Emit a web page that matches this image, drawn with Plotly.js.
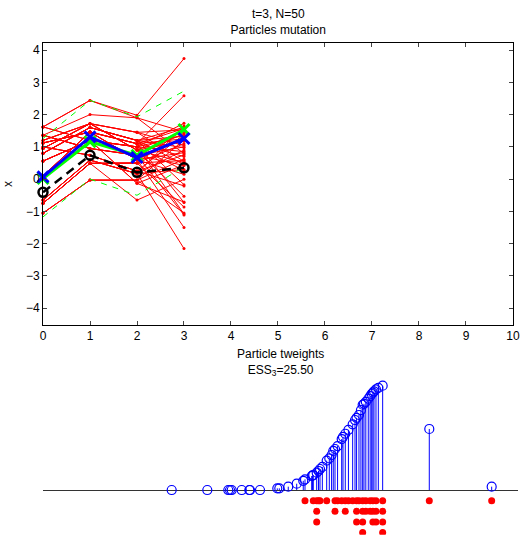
<!DOCTYPE html>
<html>
<head>
<meta charset="utf-8">
<script src="https://cdn.plot.ly/plotly-3.0.1.min.js"></script>
<style>html,body{margin:0;padding:0;background:#fff;}#chart{width:527px;height:536px;}</style>
</head>
<body>
<div id="chart"></div>
<script>
// ---- Data ----
var timeSteps = [0, 1, 2, 3];
// particle trajectories (x at t=0..3)
var partX0 = [-0.65, 0.10, 1.36, 0.56, -1.05, -0.75, 1.12, 1.62, 0.95, 1.00, 0.80, -0.75, 0.10, 0.56, -0.65, 1.36, 1.62, 0.80, 0.95, 1.20, -0.75, -1.05, 1.12, 1.00, 1.62, 0.10, 0.56, -0.65, 0.80, 1.36, 1.20, -0.75, 0.95, -1.05, 1.12, 0.10, 0.80, 0.56, 1.00, 1.36, 1.36, 0.95, 1.20, -0.75, 1.12, 0.80, -0.65, 0.56, 1.12, 1.62];
var partX1 = [0.59, 1.46, 0.95, 1.20, -0.03, 0.49, 1.46, 1.20, 1.72, 0.74, 1.60, 0.49, 1.46, 1.20, 0.59, 0.95, 1.20, 1.60, 1.72, 1.72, 0.49, -0.03, 1.46, 0.74, 2.44, 1.46, 1.20, 0.59, 1.60, 0.95, 1.72, 0.49, 1.72, -0.03, 1.46, 1.46, 1.60, 1.20, 0.74, 0.95, 2.00, 1.72, 1.72, 0.49, 1.46, 1.60, 0.59, 1.20, 1.46, 2.44];
var partX2 = [0.17, 0.60, 0.74, 1.00, -0.03, 0.50, 1.10, -0.13, 0.90, 0.25, 1.20, -0.65, 0.60, 1.00, 0.17, 0.74, -0.13, 1.20, 0.90, 1.45, 0.50, -0.03, 1.10, 0.25, 1.90, 0.60, 1.00, 0.17, 1.20, 0.74, 1.45, 0.50, 0.90, -0.03, 1.10, 0.60, 1.20, 1.00, 0.25, 0.74, 1.90, 0.90, 1.45, 0.50, 1.10, 1.20, 0.17, 1.00, 1.10, 1.98];
var partX3 = [-2.152, -1.497, -1.111, -1.079, -1.048, -0.864, -0.724, -0.711, -0.527, -0.209, -0.172, -0.007, 0.148, 0.269, 0.301, 0.424, 0.44, 0.453, 0.516, 0.55, 0.577, 0.62, 0.700, 0.748, 0.79, 0.821, 0.853, 0.9, 0.976, 1.0, 1.042, 1.1, 1.178, 1.221, 1.25, 1.294, 1.33, 1.362, 1.386, 1.42, 1.465, 1.5, 1.528, 1.55, 1.570, 1.607, 1.65, 1.730, 2.588, 3.736];
// particle weights at t=3 (same order as partX3)
var weights = [0, 0, 0, 0, 0, 0, 0, 0, 0, 0.0012, 0.0012, 0.0024, 0.0045, 0.0066, 0.0076, 0.0100, 0.0104, 0.0107, 0.0124, 0.0136, 0.0150, 0.0165, 0.0210, 0.0226, 0.0250, 0.0279, 0.0293, 0.0314, 0.0364, 0.0380, 0.0402, 0.0430, 0.0469, 0.0500, 0.0516, 0.0536, 0.0570, 0.0609, 0.0616, 0.0630, 0.0652, 0.0670, 0.0686, 0.0695, 0.0705, 0.0719, 0.0730, 0.0745, 0.0436, 0.0024];
// resampled particles: positions and number of copies
var resX = [0.301, 0.453, 0.516, 0.55, 0.577, 0.700, 0.853, 0.9, 0.976, 1.042, 1.1, 1.178, 1.25, 1.294, 1.362, 1.42, 1.5, 1.55, 1.607, 1.730, 2.588, 3.736];
var resCount = [1, 1, 3, 1, 1, 1, 2, 1, 1, 2, 1, 1, 3, 1, 4, 2, 2, 3, 3, 4, 1, 1];
// summary lines
var trueState = [0.02, 1.16, 0.74, 1.54];
var estimate = [0.07, 1.31, 0.67, 1.26];
var observation = [-0.41, 0.74, 0.21, 0.35];
var upperBound = [1.26, 2.44, 1.93, 2.73];
var lowerBound = [-1.17, 0.00, -0.50, 0.38];
var xTicks = [0, 1, 2, 3, 4, 5, 6, 7, 8, 9, 10];
var yTicks = [-4, -3, -2, -1, 0, 1, 2, 3, 4];
var essValue = 25.50;

// ---- Build traces ----
var rx = [], ry = [];
for (var i = 0; i < partX0.length; i++) {
  var p = [partX0[i], partX1[i], partX2[i], partX3[i]];
  for (var t = 0; t < timeSteps.length; t++) { rx.push(timeSteps[t]); ry.push(p[t]); }
  rx.push(null); ry.push(null);
}
var red = {x: rx, y: ry, mode: 'lines+markers', type: 'scatter', xaxis: 'x', yaxis: 'y', cliponaxis: false,
  line: {color: '#ff0000', width: 1}, marker: {color: '#ff0000', size: 3}, hoverinfo: 'skip', showlegend: false};
var gUp = {x: timeSteps, y: upperBound, mode: 'lines', xaxis: 'x', yaxis: 'y',
  line: {color: '#00ff00', width: 1, dash: '6px,6px'}, showlegend: false};
var gLo = {x: timeSteps, y: lowerBound, mode: 'lines', xaxis: 'x', yaxis: 'y',
  line: {color: '#00ff00', width: 1, dash: '6px,6px'}, showlegend: false};
var gTrue = {x: timeSteps, y: trueState, mode: 'lines+markers', xaxis: 'x', yaxis: 'y', cliponaxis: false,
  line: {color: '#00ff00', width: 3}, marker: {symbol: 'x-thin', size: 11, line: {color: '#00ff00', width: 3}}, showlegend: false};
var bEst = {x: timeSteps, y: estimate, mode: 'lines+markers', xaxis: 'x', yaxis: 'y', cliponaxis: false,
  line: {color: '#0000ff', width: 3}, marker: {symbol: 'x-thin', size: 11, line: {color: '#0000ff', width: 3}}, showlegend: false};
var kObs = {x: timeSteps, y: observation, mode: 'lines+markers', xaxis: 'x', yaxis: 'y', cliponaxis: false,
  line: {color: '#000000', width: 2.5, dash: '9px,6px'}, marker: {symbol: 'circle-open', size: 9, color: '#000000', line: {color: '#000000', width: 2.5}}, showlegend: false};

// stems
var sx = [], sy = [];
for (var j = 0; j < partX3.length; j++) { sx.push(partX3[j], partX3[j], null); sy.push(0, weights[j], null); }
var stems = {x: sx, y: sy, mode: 'lines', xaxis: 'x2', yaxis: 'y2', line: {color: '#0000ff', width: 1}, showlegend: false};
var stemHeads = {x: partX3, y: weights, mode: 'markers', xaxis: 'x2', yaxis: 'y2',
  marker: {symbol: 'circle-open', size: 9, color: '#0000ff', line: {color: '#0000ff', width: 1.2}}, showlegend: false};
var maxW = Math.max.apply(null, weights);
var step = maxW * 0.102;
var dx = [], dy = [];
for (var k = 0; k < resX.length; k++) {
  for (var c = 1; c <= resCount[k]; c++) { dx.push(resX[k]); dy.push(-c * step); }
}
var resDots = {x: dx, y: dy, mode: 'markers', xaxis: 'x2', yaxis: 'y2',
  marker: {symbol: 'circle', size: 7, color: '#ff0000'}, showlegend: false};

var fontFam = 'Liberation Sans, Arial, Helvetica, sans-serif';
var layout = {
  width: 527, height: 536,
  margin: {l: 0, r: 0, t: 0, b: 0},
  paper_bgcolor: '#ffffff', plot_bgcolor: 'rgba(0,0,0,0)',
  font: {family: fontFam, size: 11, color: '#000'},
  showlegend: false,
  title: {text: 't=3, N=50<br>Particles mutation', x: 0.528, xanchor: 'center', y: 0.9655, yanchor: 'top', font: {size: 12, family: fontFam, color: '#000'}},
  xaxis: {domain: [0.0816, 0.9734], range: [0, 10], tickvals: xTicks, ticks: 'inside', ticklen: 4, mirror: 'ticks',
    showline: true, linecolor: '#000', linewidth: 1, showgrid: false, zeroline: false, tickfont: {size: 12}, fixedrange: true},
  yaxis: {domain: [0.3937, 0.9198], range: [-4.52, 4.22], tickvals: yTicks, ticks: 'inside', ticklen: 4, mirror: 'ticks',
    showline: true, linecolor: '#000', linewidth: 1, showgrid: false, zeroline: false, tickfont: {size: 12},
    title: {text: 'x', font: {size: 12}, standoff: 10}, fixedrange: true},
  xaxis2: {domain: [0.0816, 0.9829], range: [-4.52, 4.22], visible: false, anchor: 'y2'},
  yaxis2: {domain: [0.0022, 0.3078], range: [-0.032, 0.085], anchor: 'x2', showgrid: false, showline: false,
    showticklabels: false, ticks: '', zeroline: true, zerolinecolor: '#333333', zerolinewidth: 1},
  annotations: [{
    text: 'Particle tweights<br>ESS<sub>3</sub>=' + essValue.toFixed(2), xref: 'paper', yref: 'paper',
    x: 0.532, y: 1 - 345/536, xanchor: 'center', yanchor: 'top', showarrow: false, font: {size: 12, family: fontFam, color: '#000'}
  }]
};
Plotly.newPlot('chart', [red, gUp, gLo, gTrue, bEst, kObs, stems, stemHeads, resDots], layout, {staticPlot: true, displayModeBar: false});
</script>
</body>
</html>
